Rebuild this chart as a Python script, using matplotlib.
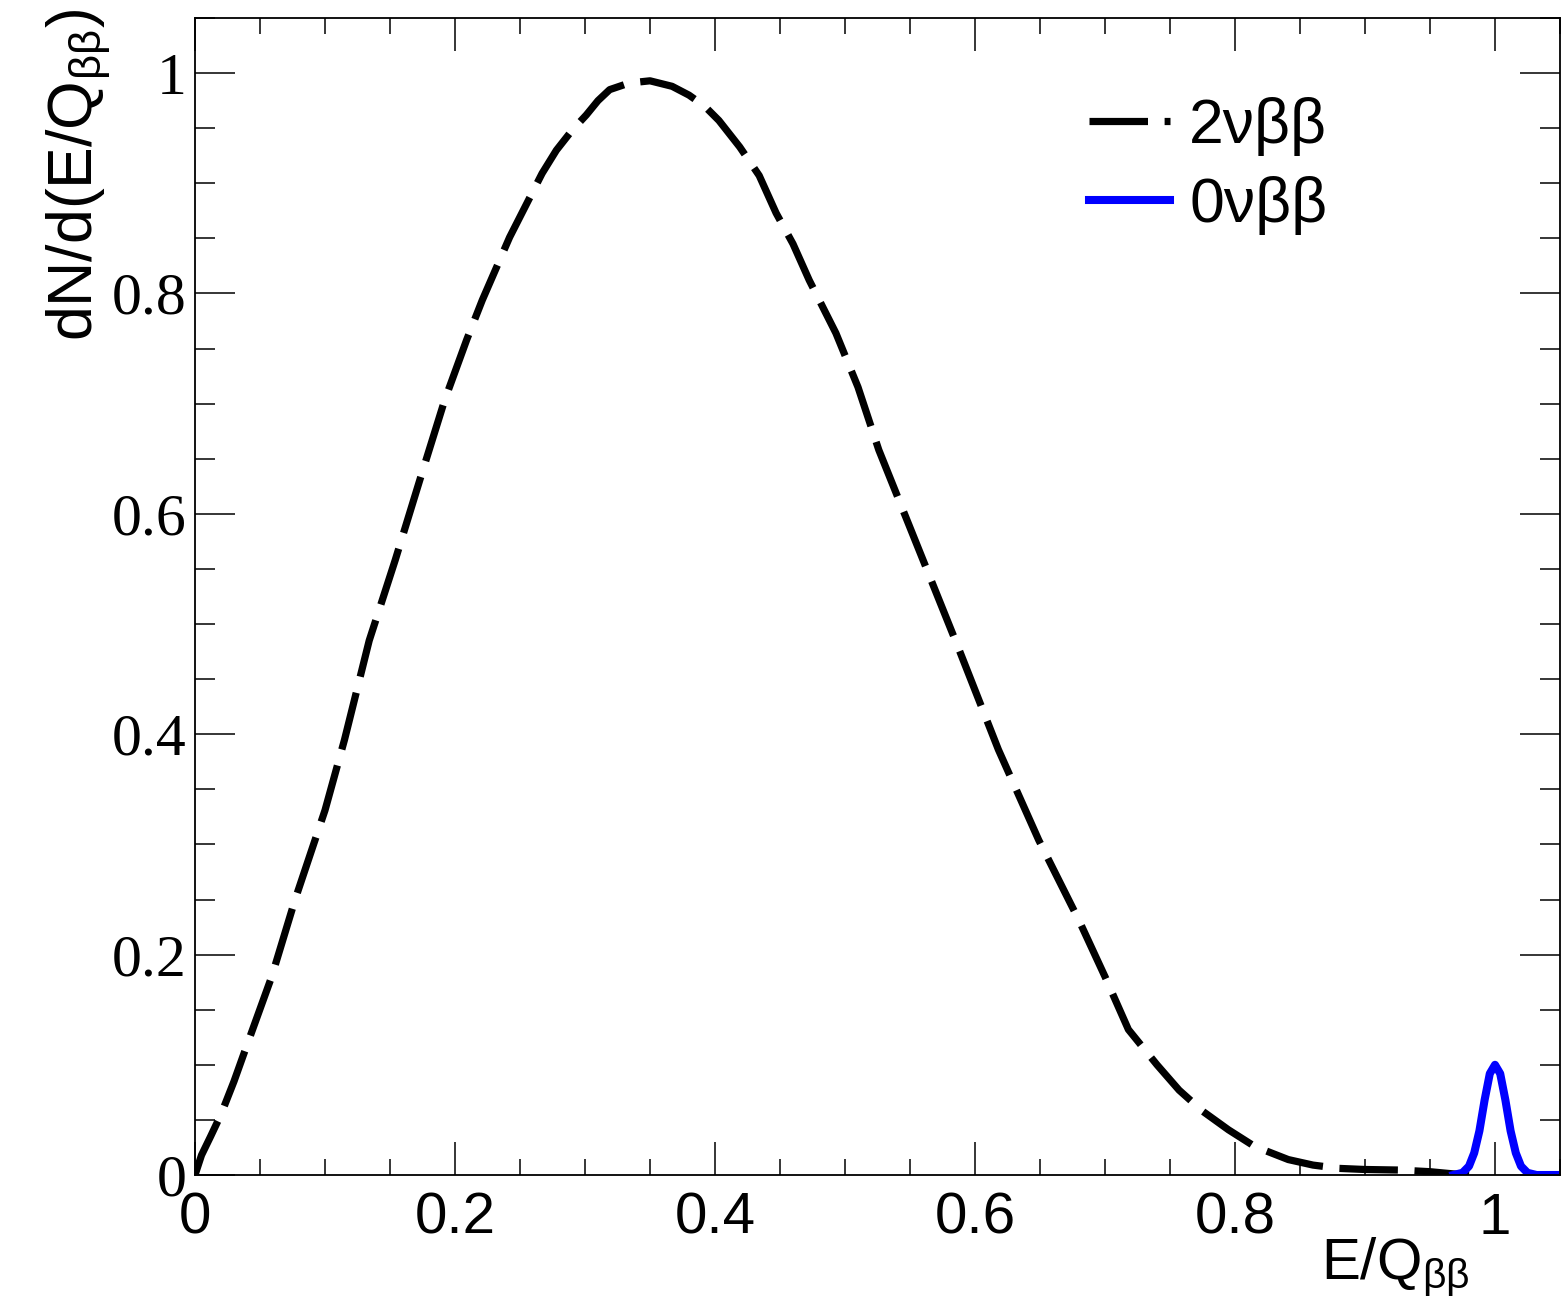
import numpy as np
import matplotlib
matplotlib.use("Agg")
import matplotlib.pyplot as plt
from matplotlib.ticker import MultipleLocator

# 2nu-beta-beta continuum
x_2nu = [0.0, 0.005, 0.012, 0.02, 0.03, 0.04, 0.059, 0.077, 0.1, 0.115, 0.134,
         0.154, 0.173, 0.192, 0.209, 0.221, 0.242, 0.267, 0.278, 0.29, 0.301,
         0.31, 0.319, 0.334, 0.35, 0.367, 0.38, 0.392, 0.403, 0.419, 0.434,
         0.447, 0.46, 0.4725, 0.493, 0.51, 0.526, 0.557, 0.588, 0.618, 0.649,
         0.68, 0.7, 0.718, 0.74, 0.757, 0.775, 0.795, 0.815, 0.841, 0.86,
         0.88, 0.9, 0.926, 0.95, 0.968, 0.98]
y_2nu = [0.0, 0.018, 0.035, 0.055, 0.085, 0.118, 0.18, 0.25, 0.331, 0.395, 0.485,
         0.558, 0.631, 0.703, 0.758, 0.794, 0.851, 0.909, 0.93, 0.948, 0.962,
         0.975, 0.985, 0.991, 0.993, 0.988, 0.98, 0.97, 0.957, 0.933, 0.907,
         0.873, 0.845, 0.812, 0.764, 0.715, 0.658, 0.567, 0.476, 0.386, 0.304,
         0.231, 0.18, 0.132, 0.1, 0.077, 0.058, 0.041, 0.026, 0.014, 0.009,
         0.006, 0.005, 0.0045, 0.003, 0.001, 0.0]

# 0nu-beta-beta peak at the Q value
x_0nu = [0.968, 0.975, 0.98, 0.984, 0.988, 0.992, 0.996, 1.0, 1.004, 1.008,
         1.012, 1.016, 1.02, 1.025, 1.032, 1.05]
y_0nu = [0.0, 0.002, 0.008, 0.02, 0.04, 0.068, 0.092, 0.1, 0.092, 0.068,
         0.04, 0.02, 0.008, 0.002, 0.0, 0.0]

labels = ["2νββ", "0νββ"]

plt.rcParams['font.family'] = ['Liberation Sans', 'DejaVu Sans']
plt.rcParams['mathtext.fontset'] = 'custom'
plt.rcParams['mathtext.rm'] = 'Liberation Sans'
plt.rcParams['mathtext.it'] = 'Liberation Sans'

fig = plt.figure(figsize=(15.63, 13), dpi=100)
ax = fig.add_axes([195 / 1563, 1 - 1175 / 1300, 1365 / 1563, 1157 / 1300])

ax.plot(x_2nu, y_2nu, color='black', lw=5.2, linestyle=(0, (8.1, 2.3)),
        label=labels[0])
ax.plot(x_0nu, y_0nu, color=(0, 0, 1), lw=5.8, label=labels[1])

ax.set_xlim(0, 1.05)
ax.set_ylim(0, 1.05)

ax.xaxis.set_major_locator(MultipleLocator(0.2))
ax.xaxis.set_minor_locator(MultipleLocator(0.05))
ax.yaxis.set_major_locator(MultipleLocator(0.2))
ax.yaxis.set_minor_locator(MultipleLocator(0.05))

ax.tick_params(axis='x', which='both', direction='in', top=True, width=1.1)
ax.tick_params(axis='x', which='major', length=24, pad=12, labelsize=42)
ax.tick_params(axis='x', which='minor', length=11.5)
ax.tick_params(axis='y', which='both', direction='in', right=True, width=1.1)
ax.tick_params(axis='y', which='major', length=29, pad=6, labelsize=43)
ax.tick_params(axis='y', which='minor', length=14.4)

ax.set_xticks([0, 0.2, 0.4, 0.6, 0.8, 1.0])
ax.set_xticklabels(['0', '0.2', '0.4', '0.6', '0.8', '1'])
ax.set_yticks([0, 0.2, 0.4, 0.6, 0.8, 1.0])
ax.set_yticklabels(['0', '0.2', '0.4', '0.6', '0.8', '1'])
for t in ax.get_yticklabels():
    t.set_fontfamily('Liberation Serif')

for s in ax.spines.values():
    s.set_linewidth(1.3)

ax.set_xlabel(r"E/Q$_{\beta\beta}$", fontsize=42, loc='right')
ax.xaxis.set_label_coords(0.934, -0.052)
ax.set_ylabel(r"dN/d(E/Q$_{\beta\beta}$)", fontsize=45, loc='top')
ax.yaxis.set_label_coords(-0.06, 1.008)

ax.legend(loc='upper left', bbox_to_anchor=(0.655, 0.932), frameon=False,
          fontsize=45, handlelength=1.3, handletextpad=0.3, borderpad=0,
          borderaxespad=0, labelspacing=0.33)

fig.savefig('out.png', dpi=100)
